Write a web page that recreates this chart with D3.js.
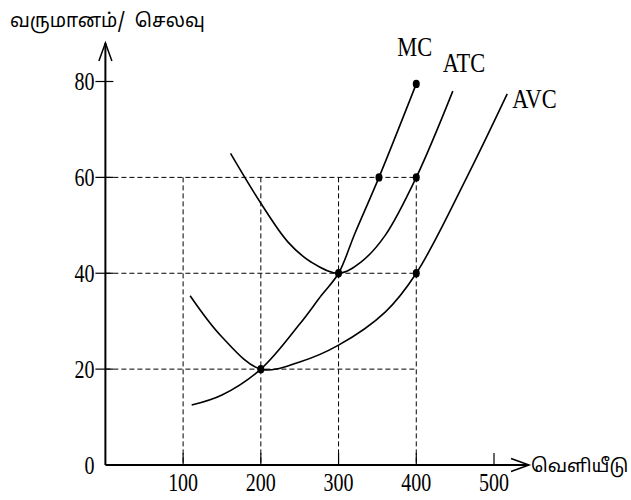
<!doctype html>
<html lang="ta">
<head>
<meta charset="UTF-8">
<title>MC ATC AVC</title>
<script src="https://d3js.org/d3.v7.min.js"></script>
<style>
  body { margin: 0; background: #fff; }
  text { fill: #000; }
  .num { font-family: "Liberation Serif", "Times New Roman", serif; }
  .ta { font-family: "Noto Sans Tamil", "Lohit Tamil", "Noto Sans", sans-serif; white-space: pre; }
</style>
</head>
<body>
<div id="chart-area"></div>
<script>

// data
const xTicks = [100, 200, 300, 400, 500];
const yTicks = [0, 20, 40, 60, 80];
const gridX = [100, 200, 300, 400];
const gridY = [20, 40, 60];

const mcX  = [111, 150, 200, 250, 278, 300, 321, 352, 400];
const mcY  = [12.5, 14.6, 20, 29.4, 35.4, 40, 48.3, 60, 79.5];
const atcX = [161, 200, 235, 265, 300, 330, 360, 400, 447];
const atcY = [65, 54.6, 46.5, 42.3, 40, 42.5, 47.9, 60, 78];
const avcX = [109, 150, 200, 250, 300, 360, 400, 465, 517];
const avcY = [35.3, 26.7, 20, 21.5, 25, 31.9, 40, 60, 77.4];

const dotX = [200, 300, 352, 400, 400, 400];
const dotY = [20, 40, 60, 60, 40, 79.5];

const yTitle = 'வருமானம்/  செலவு';
const xTitle = 'வெளியீடு';

const W = 631, H = 500;

const x = d3.scaleLinear().domain([0, 500]).range([105.4, 494]);
const y = d3.scaleLinear().domain([0, 80]).range([465, 81.5]);

const svg = d3.select('#chart-area')
    .append('svg')
    .attr('width', W)
    .attr('height', H);

// dashed guides
const grid = svg.append('g')
    .attr('stroke', '#000')
    .attr('stroke-width', 1)
    .attr('stroke-dasharray', '5,3')
    .attr('fill', 'none');

grid.selectAll('.gh')
    .data(gridY)
    .enter().append('line')
    .attr('x1', x(0)).attr('x2', x(400))
    .attr('y1', d => y(d)).attr('y2', d => y(d));

grid.selectAll('.gv')
    .data(gridX)
    .enter().append('line')
    .attr('x1', d => x(d)).attr('x2', d => x(d))
    .attr('y1', y(60)).attr('y2', y(0));

// axes
const ax = svg.append('g')
    .attr('stroke', '#000')
    .attr('fill', 'none');

const xEnd = 529, yTop = 43;
ax.append('line').attr('x1', x(0)).attr('x2', xEnd).attr('y1', y(0)).attr('y2', y(0)).attr('stroke-width', 2);
ax.append('line').attr('x1', x(0)).attr('x2', x(0)).attr('y1', y(0)).attr('y2', yTop).attr('stroke-width', 2);
ax.append('path')
    .attr('d', `M${x(0) - 6.5},${yTop + 18}L${x(0)},${yTop}L${x(0) + 6.5},${yTop + 18}`)
    .attr('stroke-width', 1.5);
ax.append('path')
    .attr('d', `M${xEnd - 18},${y(0) - 6.5}L${xEnd},${y(0)}L${xEnd - 18},${y(0) + 6.5}`)
    .attr('stroke-width', 1.5);

ax.selectAll('.xt')
    .data(xTicks)
    .enter().append('line')
    .attr('x1', d => x(d)).attr('x2', d => x(d))
    .attr('y1', y(0)).attr('y2', y(0) - 12)
    .attr('stroke-width', 1.2);

ax.selectAll('.yt')
    .data(yTicks.filter(d => d > 0))
    .enter().append('line')
    .attr('x1', x(0) - 10).attr('x2', x(0) + 8)
    .attr('y1', d => y(d)).attr('y2', d => y(d))
    .attr('stroke-width', 1.2);

// tick labels (condensed serif)
svg.selectAll('.xl')
    .data(xTicks)
    .enter().append('text')
    .attr('class', 'num')
    .attr('font-size', 25)
    .attr('text-anchor', 'middle')
    .attr('transform', d => `translate(${x(d)},${y(0) + 26}) scale(0.8,1)`)
    .text(d => d);

svg.selectAll('.yl')
    .data(yTicks)
    .enter().append('text')
    .attr('class', 'num')
    .attr('font-size', 25)
    .attr('text-anchor', 'end')
    .attr('transform', d => `translate(${x(0) - 11},${y(d) + 8.5}) scale(0.8,1)`)
    .text(d => d);

// curves
const line = d3.line()
    .x(d => x(d[0]))
    .y(d => y(d[1]))
    .curve(d3.curveCatmullRom.alpha(0.5));

const curves = [
    { name: 'MC',  xs: mcX,  ys: mcY,  dx: -19, dy: -28 },
    { name: 'ATC', xs: atcX, ys: atcY, dx: -10, dy: -19 },
    { name: 'AVC', xs: avcX, ys: avcY, dx: 5,   dy: 14 }
];

svg.selectAll('.curve')
    .data(curves)
    .enter().append('path')
    .attr('fill', 'none')
    .attr('stroke', '#000')
    .attr('stroke-width', 1.6)
    .attr('d', c => line(c.xs.map((v, i) => [v, c.ys[i]])));

svg.selectAll('.clab')
    .data(curves)
    .enter().append('text')
    .attr('class', 'num')
    .attr('font-size', 28)
    .attr('transform', c => {
        const n = c.xs.length - 1;
        return `translate(${x(c.xs[n]) + c.dx},${y(c.ys[n]) + c.dy}) scale(0.8,1)`;
    })
    .text(c => c.name);

// points
svg.selectAll('.dot')
    .data(dotX.map((v, i) => [v, dotY[i]]))
    .enter().append('ellipse')
    .attr('cx', d => x(d[0]))
    .attr('cy', d => y(d[1]))
    .attr('rx', 3.5)
    .attr('ry', 4.2)
    .attr('fill', '#000');

// titles
svg.append('text')
    .attr('class', 'ta')
    .attr('x', 10)
    .attr('y', 27)
    .attr('font-size', 19)
    .text(yTitle);

svg.append('text')
    .attr('class', 'ta')
    .attr('x', 531)
    .attr('y', y(0) + 7)
    .attr('font-size', 18.5)
    .text(xTitle);

</script>
</body>
</html>
